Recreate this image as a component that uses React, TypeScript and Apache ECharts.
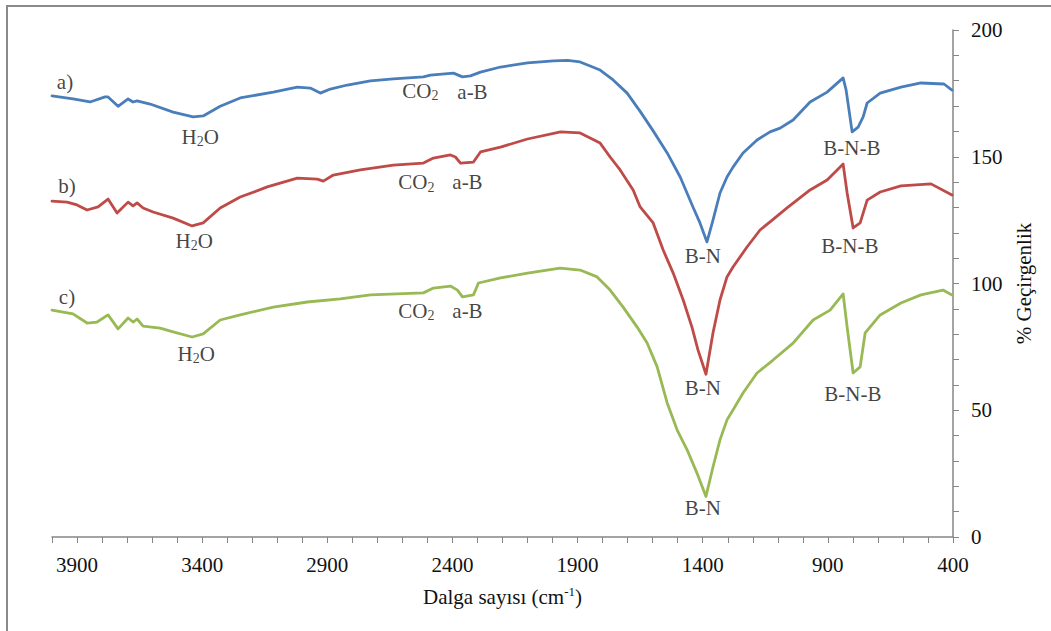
import React, { useEffect, useRef } from 'react';
import * as echarts from 'echarts';

// Wavenumber (cm-1), % transmittance
const spectrumA: [number, number][] = [
  [4000, 174], [3916, 172.8], [3848, 171.6], [3788, 173.6], [3776, 173.6], [3736, 169.9], [3696, 172.8],
  [3676, 171.6], [3660, 172], [3608, 170.8], [3516, 167.6], [3436, 165.7], [3396, 166.1], [3328, 169.9],
  [3248, 173.2], [3116, 175.5], [3020, 177.5], [2968, 177.1], [2928, 175.1], [2888, 176.7], [2820, 178.3],
  [2728, 179.9], [2636, 180.7], [2516, 181.5], [2488, 182.2], [2396, 183], [2360, 181.5], [2328, 181.9],
  [2288, 183.4], [2208, 185.4], [2100, 187], [1996, 187.8], [1940, 188], [1890, 187.4], [1810, 184.2],
  [1758, 180.3], [1702, 175.1], [1650, 167.9], [1598, 160.2], [1542, 151.5], [1490, 142], [1439, 130.2],
  [1411, 123.9], [1383, 116.4], [1359, 125], [1331, 135.7], [1303, 142], [1279, 145.9], [1239, 151.5],
  [1183, 156.6], [1131, 159.8], [1091, 161.3], [1039, 164.5], [971, 171.6], [903, 175.5], [839, 181.1],
  [827, 176.3], [803, 159.8], [779, 161.7], [759, 165.7], [743, 171.2], [691, 175.1], [608, 177.5],
  [528, 179.1], [436, 178.7], [404, 176.3],
];

const spectrumB: [number, number][] = [
  [4000, 132.5], [3940, 132.1], [3900, 131], [3860, 129], [3816, 130.2], [3776, 133.3], [3740, 127.8],
  [3696, 132.1], [3676, 130.6], [3660, 131.8], [3636, 129.8], [3596, 128.2], [3516, 125.8], [3440, 122.7],
  [3396, 123.9], [3328, 129.8], [3248, 134.1], [3140, 138.1], [3020, 141.6], [2940, 141.2], [2916, 140.4],
  [2876, 142.8], [2768, 144.8], [2636, 146.7], [2516, 147.5], [2476, 149.5], [2408, 150.7], [2388, 149.9],
  [2368, 147.5], [2316, 147.9], [2288, 151.9], [2208, 153.8], [2100, 157], [1968, 159.8], [1890, 159.4],
  [1850, 157.4], [1810, 155.4], [1770, 149.9], [1730, 144.8], [1678, 136.9], [1650, 130.2], [1598, 123.9],
  [1558, 113.2], [1518, 104.1], [1478, 93.5], [1443, 82.8], [1419, 73.8], [1387, 64.2], [1359, 80.5],
  [1331, 93.5], [1303, 102.6], [1279, 106.5], [1223, 114.4], [1171, 121.1], [1131, 124.3], [1063, 129.8],
  [971, 136.9], [903, 140.8], [839, 147.1], [823, 135.7], [799, 121.9], [771, 123.9], [743, 132.9],
  [691, 136.1], [608, 138.5], [488, 139.3], [404, 134.9],
];

const spectrumC: [number, number][] = [
  [4000, 89.5], [3916, 88], [3860, 84.4], [3820, 84.8], [3776, 87.6], [3736, 82.1], [3696, 86.4],
  [3676, 84.8], [3660, 86], [3636, 83.2], [3568, 82.4], [3516, 80.9], [3440, 78.9], [3396, 80.1],
  [3328, 85.6], [3248, 87.6], [3116, 90.7], [2980, 92.7], [2848, 93.9], [2728, 95.5], [2516, 96.3],
  [2476, 98.2], [2408, 99], [2380, 97.4], [2360, 94.7], [2316, 95.5], [2296, 100.2], [2208, 102.2],
  [2100, 104.1], [1970, 106.1], [1890, 105.3], [1822, 102.6], [1770, 97.4], [1718, 90.7], [1662, 82.8],
  [1622, 76.5], [1582, 67.1], [1542, 52.9], [1502, 42.2], [1462, 34.3], [1423, 25.2], [1387, 16],
  [1359, 27.6], [1331, 38.3], [1303, 46.2], [1279, 50.1], [1239, 56.8], [1183, 64.7], [1119, 69.8],
  [1039, 76.5], [959, 85.6], [891, 89.5], [839, 95.9], [823, 82.8], [799, 64.7], [771, 67.1],
  [751, 80.5], [691, 87.6], [608, 92.3], [528, 95.5], [440, 97.4], [404, 95.5],
];

const seriesNames = ['a)', 'b)', 'c)'];
const seriesColors = ['#4A7EBB', '#BE4B48', '#98B954'];

// Peak annotations: text and position in data coordinates
const annotationTexts = [
  'a)', 'H2O', 'CO2', 'a-B', 'B-N', 'B-N-B',
  'b)', 'H2O', 'CO2', 'a-B', 'B-N', 'B-N-B',
  'c)', 'H2O', 'CO2', 'a-B', 'B-N', 'B-N-B',
];
const annotationX = [
  3948, 3408, 2528, 2320, 1400, 804,
  3940, 3432, 2544, 2340, 1400, 812,
  3940, 3424, 2544, 2340, 1400, 800,
];
const annotationY = [
  179.5, 157.8, 176, 175.5, 110.8, 153.5,
  138.5, 116.8, 140, 140, 58.8, 114.8,
  94.7, 72.2, 89.2, 89.2, 11.4, 56.4,
];

const xMin = 400;
const xMax = 4000;
const xLabelStep = 500;
const yMin = 0;
const yMax = 200;
const yLabelStep = 50;

const FONT = "'Liberation Serif', 'Times New Roman', serif";
const TEXT_COLOR = '#111111';

function richText(t: string): string {
  if (t === 'H2O') return '{n|H}{s|2}{n|O}';
  if (t === 'CO2') return '{n|CO}{s|2}';
  return '{n|' + t + '}';
}

export default function App() {
  const ref = useRef<HTMLDivElement>(null);

  useEffect(() => {
    const chart = echarts.init(ref.current!, null, { renderer: 'svg' });
    const spectra = [spectrumA, spectrumB, spectrumC];
    const annData = annotationTexts.map((t, i) => [annotationX[i], annotationY[i], t]);

    chart.setOption({
      animation: false,
      backgroundColor: '#ffffff',
      textStyle: { fontFamily: FONT },
      grid: { left: 52, right: 98, top: 30, bottom: 94, containLabel: false },
      graphic: [
        {
          type: 'rect',
          silent: true,
          z: -10,
          shape: { x: 7, y: 6, width: 1100, height: 700 },
          style: { fill: 'none', stroke: '#8a8a8a', lineWidth: 2 },
        },
      ],
      xAxis: {
        type: 'value',
        inverse: true,
        min: xMin,
        max: xMax,
        interval: 100,
        name: '{n|Dalga sayısı (cm}{sup|-1}{n|)}',
        nameLocation: 'middle',
        nameGap: 48,
        nameTextStyle: {
          fontFamily: FONT,
          color: TEXT_COLOR,
          rich: {
            n: { fontFamily: FONT, fontSize: 21, color: TEXT_COLOR, lineHeight: 24 },
            sup: { fontFamily: FONT, fontSize: 13, color: TEXT_COLOR, lineHeight: 12, verticalAlign: 'top' },
          },
        },
        axisLine: { show: true, onZero: false, lineStyle: { color: '#868686', width: 1.5 } },
        axisTick: { show: true, inside: false, length: 6, lineStyle: { color: '#868686', width: 1 } },
        axisLabel: {
          fontFamily: FONT,
          fontSize: 21,
          color: TEXT_COLOR,
          margin: 17,
          formatter: (v: number) => ((v - xMin) % xLabelStep === 0 ? String(v) : ''),
        },
        splitLine: { show: false },
      },
      yAxis: {
        type: 'value',
        position: 'right',
        min: yMin,
        max: yMax,
        interval: 10,
        name: '% Geçirgenlik',
        nameLocation: 'middle',
        nameGap: 60,
        nameRotate: 90,
        nameTextStyle: { fontFamily: FONT, fontSize: 21, color: TEXT_COLOR },
        axisLine: { show: true, lineStyle: { color: '#868686', width: 1.5 } },
        axisTick: { show: true, inside: false, length: 6, lineStyle: { color: '#868686', width: 1 } },
        axisLabel: {
          fontFamily: FONT,
          fontSize: 21,
          color: TEXT_COLOR,
          margin: 18,
          formatter: (v: number) => (v % yLabelStep === 0 ? String(v) : ''),
        },
        splitLine: { show: false },
      },
      series: [
        ...spectra.map((d, i) => ({
          type: 'line',
          name: seriesNames[i],
          data: d,
          showSymbol: false,
          symbol: 'none',
          smooth: false,
          lineStyle: { color: seriesColors[i], width: 2.8, join: 'round', cap: 'round' },
          itemStyle: { color: seriesColors[i] },
          z: 3,
        })),
        {
          type: 'scatter',
          name: 'labels',
          data: annData,
          symbol: 'rect',
          symbolSize: 1,
          silent: true,
          itemStyle: { color: 'rgba(0,0,0,0)' },
          z: 4,
          label: {
            show: true,
            position: 'inside',
            fontFamily: FONT,
            formatter: (p: any) => richText(p.data[2]),
            rich: {
              n: { fontFamily: FONT, fontSize: 21, color: TEXT_COLOR, lineHeight: 24 },
              s: { fontFamily: FONT, fontSize: 14, color: TEXT_COLOR, lineHeight: 12, verticalAlign: 'bottom' },
            },
          },
        },
      ],
    });

    return () => chart.dispose();
  }, []);

  return (
    <div
      ref={ref}
      style={{ position: 'fixed', left: 0, top: 0, width: 1051, height: 631, background: '#fff' }}
    />
  );
}
